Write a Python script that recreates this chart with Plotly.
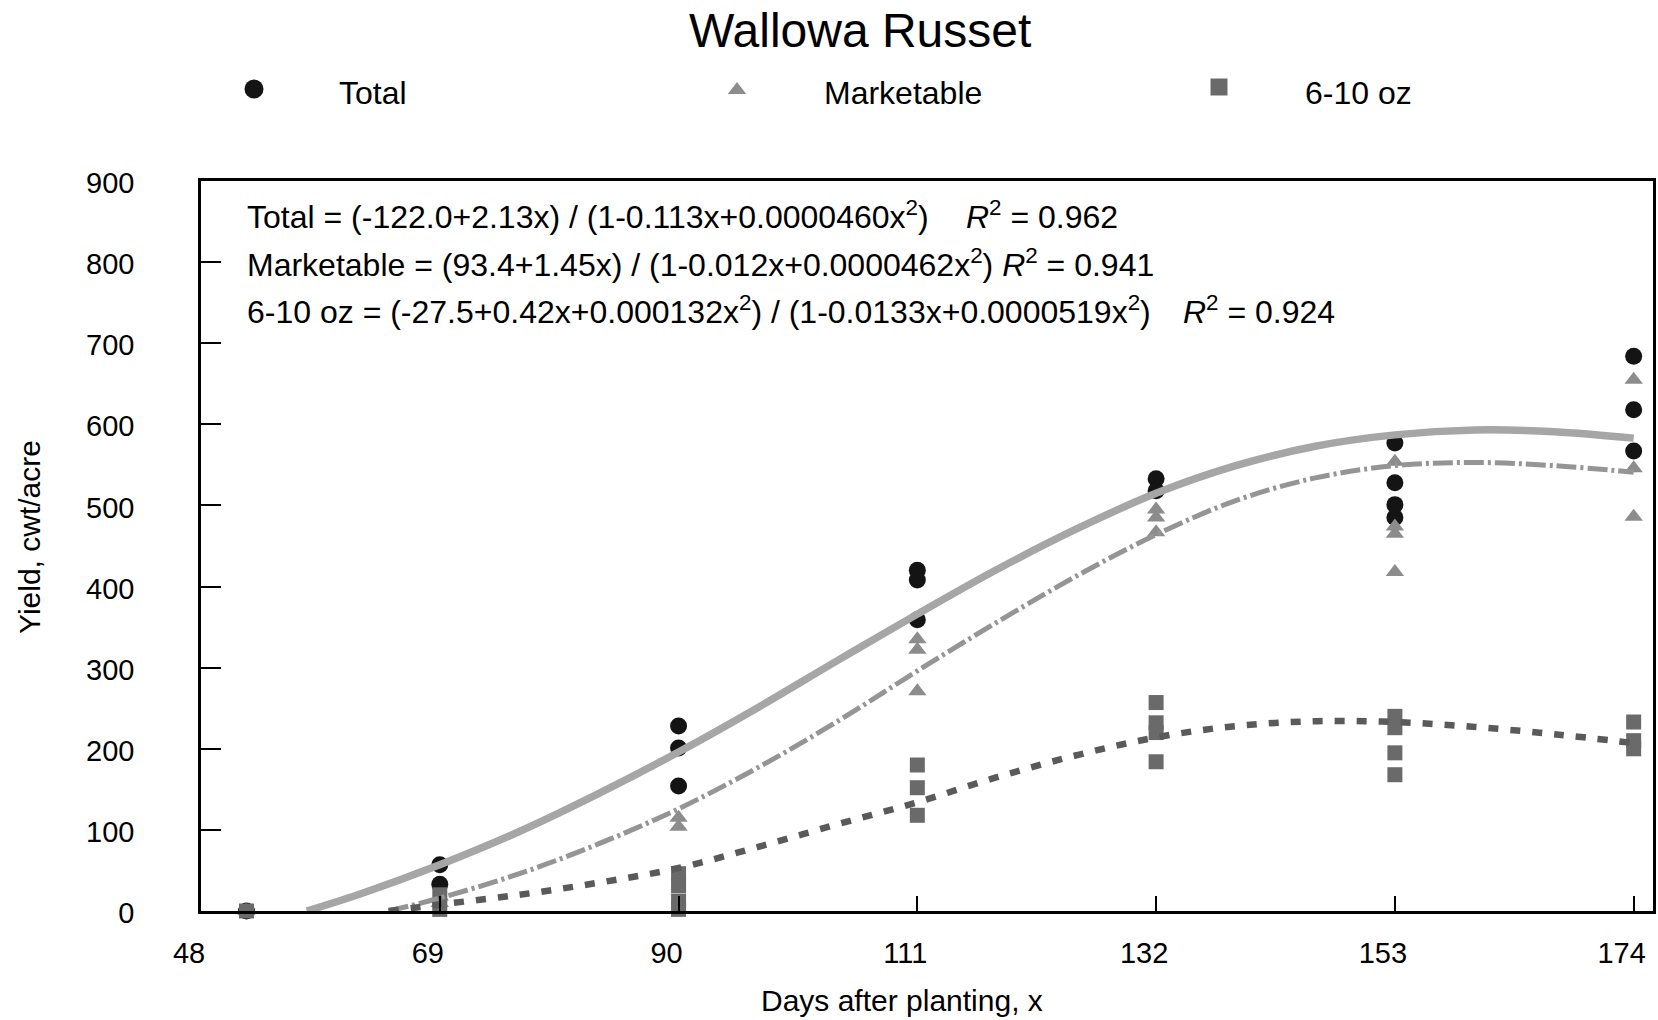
import plotly.graph_objects as go

# ---------------- data ----------------
x_ticks = [48, 69, 90, 111, 132, 153, 174]
y_ticks = [0, 100, 200, 300, 400, 500, 600, 700, 800, 900]

total_days = [52, 69, 69, 90, 90, 90, 111, 111, 111, 132, 132, 153, 153, 153, 153, 174, 174, 174]
total_yield = [0, 57, 33, 228, 201, 154, 420, 408, 359, 533, 518, 577, 528, 501, 485, 684, 618, 567]

market_days = [52, 69, 69, 90, 90, 111, 111, 111, 132, 132, 132, 153, 153, 153, 153, 174, 174, 174]
market_yield = [0, 18, 10, 115, 104, 335, 322, 271, 495, 485, 467, 554, 474, 465, 418, 655, 546, 486]

oz_days = [52, 69, 69, 90, 90, 90, 90, 111, 111, 111, 132, 132, 132, 132, 153, 153, 153, 153, 174, 174, 174]
oz_yield = [0, 20, 2, 46, 31, 12, 2, 180, 152, 118, 257, 232, 220, 184, 240, 226, 195, 168, 233, 210, 200]

total_fit_days = [57.3, 62, 69, 76, 83, 90, 97, 104, 111, 118, 125, 132, 139, 146, 153, 160, 167, 174]
total_fit = [0, 21, 57, 98, 145, 196, 251, 309, 366, 421, 471, 515, 549, 573, 587, 593, 591, 583]

market_fit_days = [64.5, 69, 76, 83, 90, 97, 104, 111, 118, 125, 132, 139, 146, 153, 160, 167, 174]
market_fit = [0, 16, 46, 83, 126, 177, 234, 296, 356, 413, 464, 506, 534, 549, 553, 549, 541]

oz_fit_days = [64.5, 69, 76, 83, 90, 97, 104, 111, 118, 125, 132, 139, 146, 153, 160, 167, 174]
oz_fit = [0, 8, 20, 35, 53, 79, 107, 134, 165, 192, 214, 228, 234, 233, 227, 218, 207]

series_names = ["Total", "Marketable", "6-10 oz"]

# ---------------- styling ----------------
W, H = 1658, 1020
FONT = "Liberation Sans, Arial, sans-serif"
C_TOTAL_MK = "#141414"
C_MARKET_MK = "#8c8c8c"
C_OZ_MK = "#6a6a6a"


def px(x):
    return x / W


def py(y):
    return 1 - y / H


fig = go.Figure()

# observed points
fig.add_trace(go.Scatter(x=total_days, y=total_yield, mode="markers", name=series_names[0],
                         marker=dict(symbol="circle", size=17, color=C_TOTAL_MK),
                         cliponaxis=False, showlegend=False))
fig.add_trace(go.Scatter(x=market_days, y=market_yield, mode="markers", name=series_names[1],
                         marker=dict(symbol="triangle-up", size=16, color=C_MARKET_MK),
                         cliponaxis=False, showlegend=False))
fig.add_trace(go.Scatter(x=oz_days, y=oz_yield, mode="markers", name=series_names[2],
                         marker=dict(symbol="square", size=15, color=C_OZ_MK),
                         cliponaxis=False, showlegend=False))

# fitted curves
fig.add_trace(go.Scatter(x=total_fit_days, y=total_fit, mode="lines", line_shape="spline",
                         line=dict(color="#a6a6a6", width=7.5), showlegend=False))
fig.add_trace(go.Scatter(x=market_fit_days, y=market_fit, mode="lines", line_shape="spline",
                         line=dict(color="#959595", width=5, dash="20px,4px,3px,4px"), showlegend=False))
fig.add_trace(go.Scatter(x=oz_fit_days, y=oz_fit, mode="lines", line_shape="spline",
                         line=dict(color="#5a5a5a", width=6.5, dash="10px,12px"), showlegend=False))

# legend glyphs on an overlay pixel-coordinate subplot
leg_x = [254, 737, 1219]
leg_y = [89, 90, 87]
leg_sym = ["circle", "triangle-up", "square"]
leg_col = [C_TOTAL_MK, C_MARKET_MK, C_OZ_MK]
leg_size = [19, 16, 17]
for i in range(3):
    fig.add_trace(go.Scatter(x=[leg_x[i]], y=[leg_y[i]], xaxis="x2", yaxis="y2", mode="markers",
                             marker=dict(symbol=leg_sym[i], size=leg_size[i], color=leg_col[i]),
                             showlegend=False, cliponaxis=False))

ann = []
leg_text_x = [337, 822, 1303]
for i in range(3):
    ann.append(dict(x=px(leg_text_x[i]), y=py(93), xref="paper", yref="paper", text=series_names[i],
                    showarrow=False, xanchor="left", yanchor="middle",
                    font=dict(family=FONT, size=32, color="black")))

eq_font = dict(family=FONT, size=32, color="black")
ann.append(dict(x=px(245), y=py(215), xref="paper", yref="paper", showarrow=False, xanchor="left", yanchor="middle",
                text="Total = (-122.0+2.13x) / (1-0.113x+0.0000460x<sup>2</sup>)", font=eq_font))
ann.append(dict(x=px(964), y=py(215), xref="paper", yref="paper", showarrow=False, xanchor="left", yanchor="middle",
                text="<i>R</i><sup>2</sup> = 0.962", font=eq_font))
ann.append(dict(x=px(245), y=py(263), xref="paper", yref="paper", showarrow=False, xanchor="left", yanchor="middle",
                text="Marketable = (93.4+1.45x) / (1-0.012x+0.0000462x<sup>2</sup>) <i>R</i><sup>2</sup> = 0.941",
                font=eq_font))
ann.append(dict(x=px(245), y=py(310), xref="paper", yref="paper", showarrow=False, xanchor="left", yanchor="middle",
                text="6-10 oz = (-27.5+0.42x+0.000132x<sup>2</sup>) / (1-0.0133x+0.0000519x<sup>2</sup>)",
                font=eq_font))
ann.append(dict(x=px(1181), y=py(310), xref="paper", yref="paper", showarrow=False, xanchor="left", yanchor="middle",
                text="<i>R</i><sup>2</sup> = 0.924", font=eq_font))

# title and axis titles
ann.append(dict(x=px(860), y=py(30), xref="paper", yref="paper", showarrow=False, xanchor="center", yanchor="middle",
                text="Wallowa Russet", font=dict(family=FONT, size=48, color="black")))
ann.append(dict(x=px(902), y=py(1000), xref="paper", yref="paper", showarrow=False, xanchor="center",
                yanchor="middle", text="Days after planting, x", font=dict(family=FONT, size=30, color="black")))
ann.append(dict(x=px(29), y=py(537), xref="paper", yref="paper", showarrow=False, xanchor="center",
                yanchor="middle", textangle=-90, text="Yield, cwt/acre",
                font=dict(family=FONT, size=30, color="black")))

fig.update_layout(
    width=W, height=H,
    margin=dict(l=0, r=0, t=0, b=0),
    paper_bgcolor="white", plot_bgcolor="rgba(0,0,0,0)",
    showlegend=False,
    annotations=ann,
    xaxis=dict(domain=[px(201), px(1653)], range=[48, 175.7], tickmode="array", tickvals=x_ticks,
               ticktext=[str(v) for v in x_ticks], ticks="inside", ticklen=15, tickwidth=1.5,
               tickcolor="black", showline=True, linecolor="black", linewidth=2.5, mirror=True,
               showgrid=False, zeroline=False, ticklabelstandoff=14, ticklabelshift=-12,
               tickfont=dict(family=FONT, size=29, color="black"), automargin=False, anchor="y"),
    yaxis=dict(domain=[py(911), py(181)], range=[0, 900], tickmode="array", tickvals=y_ticks,
               ticks="inside", ticklen=20, tickwidth=1.5, tickcolor="black", showline=True,
               linecolor="black", linewidth=2.5, mirror=True, showgrid=False, zeroline=False,
               ticklabelstandoff=58, ticklabelshift=2, tickfont=dict(family=FONT, size=29, color="black"),
               automargin=False, anchor="x"),
    xaxis2=dict(domain=[0, 1], range=[0, W], visible=False, anchor="y2", fixedrange=True),
    yaxis2=dict(domain=[0, 1], range=[H, 0], visible=False, anchor="x2", fixedrange=True),
)

fig.write_html("out.html")
